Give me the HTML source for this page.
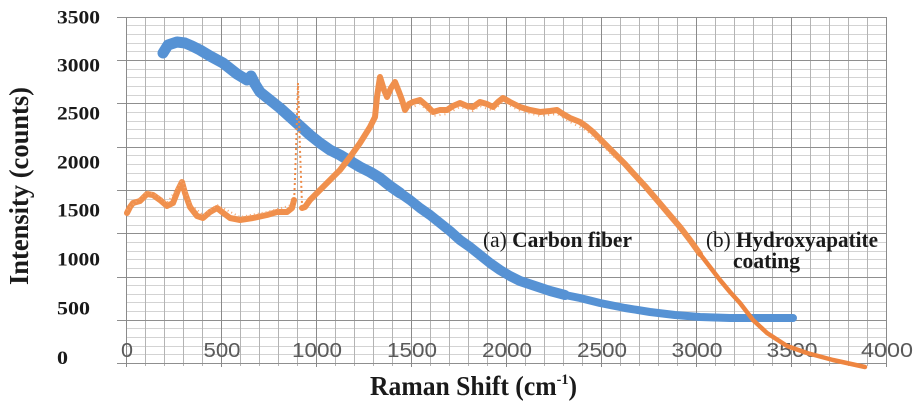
<!DOCTYPE html>
<html>
<head>
<meta charset="utf-8">
<style>
  html,body{margin:0;padding:0;background:#fff;}
  svg{display:block;}
  .yl{font-family:"Liberation Serif",serif;font-weight:bold;font-size:19px;fill:#1a1a1a;}
  .xl{font-family:"Liberation Sans",sans-serif;font-size:20px;fill:#5a5a5a;}
  .ttl{font-family:"Liberation Serif",serif;font-weight:bold;font-size:27px;fill:#1a1a1a;}
  .ann{font-family:"Liberation Serif",serif;font-size:22px;fill:#1a1a1a;}
  .b{font-weight:bold;}
</style>
</head>
<body>
<svg width="924" height="407" viewBox="0 0 924 407" xmlns="http://www.w3.org/2000/svg">
  <rect width="924" height="407" fill="#fff"/>

  <!-- minor horizontal grid -->
  <path stroke="#d3d3d3" stroke-width="1" fill="none" d="
    M126 25.5H886 M126 34.5H886 M126 43.5H886 M126 51.5H886
    M126 69.5H886 M126 77.5H886 M126 86.5H886 M126 95.5H886
    M126 112.5H886 M126 121.5H886 M126 129.5H886 M126 138.5H886
    M126 155.5H886 M126 164.5H886 M126 173.5H886 M126 181.5H886
    M126 199.5H886 M126 207.5H886 M126 216.5H886 M126 225.5H886
    M126 242.5H886 M126 251.5H886 M126 259.5H886 M126 268.5H886
    M126 285.5H886 M126 294.5H886 M126 302.5H886 M126 311.5H886
    M126 328.5H886 M126 337.5H886 M126 346.5H886 M126 354.5H886"/>

  <!-- minor vertical grid -->
  <path stroke="#b4b4b4" stroke-width="1" fill="none" d="
    M145.5 17V366 M164.5 17V366 M183.5 17V366 M202.5 17V366
    M240.5 17V366 M259.5 17V366 M278.5 17V366 M297.5 17V366
    M335.5 17V366 M354.5 17V366 M373.5 17V366 M392.5 17V366
    M430.5 17V366 M449.5 17V366 M468.5 17V366 M487.5 17V366
    M525.5 17V366 M544.5 17V366 M563.5 17V366 M582.5 17V366
    M620.5 17V366 M639.5 17V366 M658.5 17V366 M677.5 17V366
    M715.5 17V366 M734.5 17V366 M753.5 17V366 M772.5 17V366
    M810.5 17V366 M829.5 17V366 M848.5 17V366 M867.5 17V366"/>

  <!-- major horizontal grid -->
  <path stroke="#8f8f8f" stroke-width="1" fill="none" d="
    M117 17.5H887 M117 60.5H886 M117 103.5H886 M117 147.5H886
    M117 190.5H886 M117 233.5H886 M117 277.5H886 M117 320.5H886 M117 363.5H887"/>

  <!-- major vertical grid -->
  <path stroke="#8a8a8a" stroke-width="1" fill="none" d="
    M126.5 17V367 M221.5 17V367 M316.5 17V367 M411.5 17V367
    M506.5 17V367 M601.5 17V367 M696.5 17V367 M791.5 17V367 M886.5 17V367"/>

  <!-- x tick labels (inside plot) -->
  <text class="xl" x="127" y="357" text-anchor="middle" textLength="12" lengthAdjust="spacingAndGlyphs">0</text>
  <text class="xl" x="222" y="357" text-anchor="middle" textLength="37" lengthAdjust="spacingAndGlyphs">500</text>
  <text class="xl" x="317" y="357" text-anchor="middle" textLength="50" lengthAdjust="spacingAndGlyphs">1000</text>
  <text class="xl" x="412" y="357" text-anchor="middle" textLength="50" lengthAdjust="spacingAndGlyphs">1500</text>
  <text class="xl" x="507" y="357" text-anchor="middle" textLength="50" lengthAdjust="spacingAndGlyphs">2000</text>
  <text class="xl" x="602" y="357" text-anchor="middle" textLength="50" lengthAdjust="spacingAndGlyphs">2500</text>
  <text class="xl" x="697" y="357" text-anchor="middle" textLength="51" lengthAdjust="spacingAndGlyphs">3000</text>
  <text class="xl" x="792" y="357" text-anchor="middle" textLength="51" lengthAdjust="spacingAndGlyphs">3500</text>
  <text class="xl" x="887" y="357" text-anchor="middle" textLength="52" lengthAdjust="spacingAndGlyphs">4000</text>

  <!-- blue series: carbon fiber -->
  <polyline fill="none" stroke="#5692d4" stroke-width="11" stroke-linecap="round" stroke-linejoin="round"
    points="163,53 168,45 177,42 185,43 192,46 200,50 210,56 223,63 237,74 247,80 251,76 255,84 260,92 270,100 280,108 290,117 300,126 310,135 320,143 330,150 340,155 350,161 360,167 370,172 380,178 390,186 400,193"/>
  <polyline fill="none" stroke="#5692d4" stroke-width="10" stroke-linecap="round" stroke-linejoin="round"
    points="400,193 410,200 420,208 430,215 440,223 450,231 460,240 470,247 480,255 490,263 500,270 510,276 520,281 535,286 550,291 565,295"/>
  <polyline fill="none" stroke="#5692d4" stroke-width="8" stroke-linecap="round" stroke-linejoin="round"
    points="565,295 580,298 600,303 625,308 650,312 675,315 700,317 730,318 760,318 793,318"/>

  <!-- orange series: hydroxyapatite -->
  <polyline fill="none" stroke="#f0904d" stroke-width="6" stroke-linecap="round" stroke-linejoin="round"
    points="127,213 130,207 133,203 140,201 147,194 153,195 160,200 167,206 173,203 178,190 182,182 185,193 190,207 197,216 203,218 210,212 217,208 222,212 230,218 240,220 253,218 267,215 277,212 287,212 292,208 294,200"/>
  <polyline fill="none" stroke="#ef8a45" stroke-width="2" stroke-dasharray="2 3"
    points="294,205 296,150 298,83 300,150 302,205"/>
  <polyline fill="none" stroke="#f0904d" stroke-width="6" stroke-linecap="round" stroke-linejoin="round"
    points="302,208 305,207 310,200 320,190 330,180 340,170 350,157 360,143 370,127 375,117 377,97 380,77 384,90 387,97 391,88 395,82 399,92 402,100 405,110 409,104 413,102 420,100 427,106 433,112 440,110 447,110 453,106 460,103 467,106 473,107 480,102 487,104 493,107 498,102 503,98 510,102 520,107 530,110 540,112 550,111 557,110 563,114 570,118 580,122 587,127 593,132 600,139 607,146 617,156 625,164 633,173 645,186 657,200 668,213 680,227 690,240 700,254"/>
  <polyline fill="none" stroke="#ee8540" stroke-width="4.5" stroke-linecap="round" stroke-linejoin="round"
    points="700,254 710,267 720,280 730,292 740,303 753,320 767,333 787,346 807,353 833,360 865,367"/>
  <!-- scatter texture -->
  <polyline fill="none" stroke="#f3a46e" stroke-width="2" stroke-dasharray="1 3" transform="translate(0,-3)"
    points="127,213 140,201 147,194 160,200 167,206 178,190 182,182 190,207 203,218 217,208 240,220 267,215 292,208"/>
  <polyline fill="none" stroke="#f3a46e" stroke-width="2" stroke-dasharray="1 4" transform="translate(0,4)"
    points="410,104 420,100 433,112 447,110 460,103 473,107 480,102 493,107 503,98 520,107 540,112 557,110 570,118 587,127 600,139 617,156"/>

  <!-- y tick labels -->
  <text class="yl" x="57" y="23.5" textLength="43" lengthAdjust="spacingAndGlyphs">3500</text>
  <text class="yl" x="57" y="71.5" textLength="43" lengthAdjust="spacingAndGlyphs">3000</text>
  <text class="yl" x="57" y="119.5" textLength="43" lengthAdjust="spacingAndGlyphs">2500</text>
  <text class="yl" x="57" y="168.5" textLength="43" lengthAdjust="spacingAndGlyphs">2000</text>
  <text class="yl" x="57" y="216.5" textLength="43" lengthAdjust="spacingAndGlyphs">1500</text>
  <text class="yl" x="57" y="265.5" textLength="43" lengthAdjust="spacingAndGlyphs">1000</text>
  <text class="yl" x="57" y="314.5" textLength="33" lengthAdjust="spacingAndGlyphs">500</text>
  <text class="yl" x="57" y="364" textLength="11" lengthAdjust="spacingAndGlyphs">0</text>

  <!-- axis titles -->
  <text class="ttl" transform="translate(28,186) rotate(-90)" text-anchor="middle" textLength="198" lengthAdjust="spacingAndGlyphs">Intensity (counts)</text>
  <text class="ttl" x="370" y="395" textLength="207" lengthAdjust="spacingAndGlyphs">Raman Shift (cm<tspan font-size="15" dy="-11">-1</tspan><tspan dy="11">)</tspan></text>

  <!-- annotations -->
  <text class="ann" x="483" y="247" textLength="149" lengthAdjust="spacingAndGlyphs">(a) <tspan class="b">Carbon fiber</tspan></text>
  <text class="ann" x="706" y="247" textLength="172" lengthAdjust="spacingAndGlyphs">(b) <tspan class="b">Hydroxyapatite</tspan></text>
  <text class="ann b" x="733" y="268" textLength="67" lengthAdjust="spacingAndGlyphs">coating</text>
</svg>
</body>
</html>
